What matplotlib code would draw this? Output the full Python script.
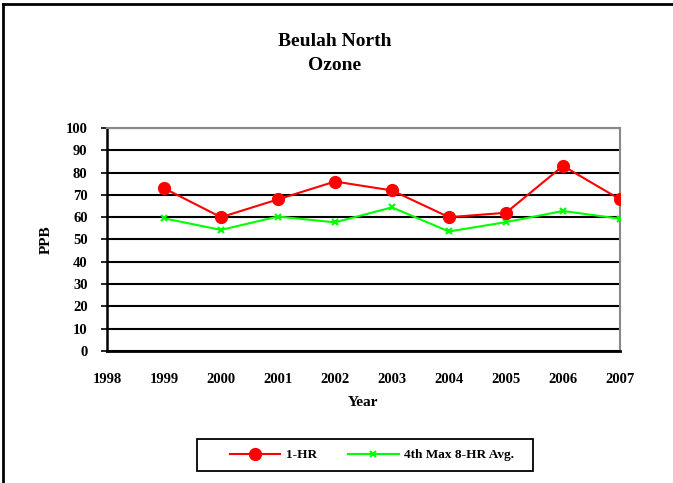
import numpy as np
import matplotlib.pyplot as plt
from matplotlib.lines import Line2D
from matplotlib.patches import Rectangle

plt.rcParams['font.family'] = ['Liberation Serif', 'DejaVu Serif']
plt.rcParams['font.weight'] = 'bold'

years = [1999, 2000, 2001, 2002, 2003, 2004, 2005, 2006, 2007]
one_hr = [73, 60, 68, 76, 72, 60, 62, 83, 68]
eight_hr = [59.5, 54.3, 60.3, 57.7, 64.4, 53.6, 57.8, 62.8, 59.3]
year_ticks = list(range(1998, 2008))
ppb_ticks = list(range(0, 101, 10))

W, H = 673, 483
fig = plt.figure(figsize=(W / 100, H / 100), dpi=100)
ax = fig.add_axes([107/W, 1 - 351/H, (620 - 107)/W, (351 - 128)/H])

ax.plot(years, one_hr, color='#ff0000', lw=1.5, marker='o', ms=8.5,
        markeredgecolor='#ff0000', label='1-HR', zorder=4)
ax.plot(years, eight_hr, color='#00ff00', lw=1.5, marker='x', ms=4,
        mew=1.5, label='4th Max 8-HR Avg.', zorder=3)

ax.set_xlim(1998, 2007)
ax.set_ylim(0, 100)
ax.set_xticks(year_ticks)
ax.set_yticks(ppb_ticks)
ax.tick_params(axis='x', length=0, pad=16, labelsize=10.5)
ax.tick_params(axis='y', length=4, width=1.2, pad=10, labelsize=10.5)
for lbl in ax.get_xticklabels() + ax.get_yticklabels():
    lbl.set_fontweight('bold')

ax.yaxis.grid(True, color='black', lw=1.5)
ax.set_axisbelow(True)
ax.spines['left'].set_linewidth(1.8)
ax.spines['bottom'].set_linewidth(2)
for side in ('top', 'right'):
    ax.spines[side].set_color('#888888')
    ax.spines[side].set_linewidth(1.5)

ax.set_xlabel('Year', fontsize=11, fontweight='bold', labelpad=7)
ax.set_ylabel('PPB', fontsize=11, fontweight='bold', labelpad=9)

fig.text(335/W, 1 - 42/H, 'Beulah North', ha='center', va='center',
         fontsize=14, fontweight='bold')
fig.text(335/W, 1 - 66/H, 'Ozone', ha='center', va='center',
         fontsize=14, fontweight='bold')

# legend entries without frame, box drawn separately
leg = fig.legend(loc='center', bbox_to_anchor=(372/W, 1 - 455/H), ncol=2,
                 frameon=False, prop={'size': 9.5, 'weight': 'bold'},
                 handlelength=3.8, handletextpad=0.4, columnspacing=2.4,
                 borderpad=0)
fig.add_artist(Rectangle((197/W, 1 - 471/H), (533 - 197)/W, (471 - 439)/H,
                         transform=fig.transFigure, fill=False,
                         edgecolor='black', lw=1.3))

# outer chart frame (left and top edges)
fig.add_artist(Line2D([3/W, 3/W], [0, 1 - 4/H], color='black', lw=2))
fig.add_artist(Line2D([3/W, 1], [1 - 4/H, 1 - 4/H], color='black', lw=2))

fig.savefig('out.png', dpi=100)
